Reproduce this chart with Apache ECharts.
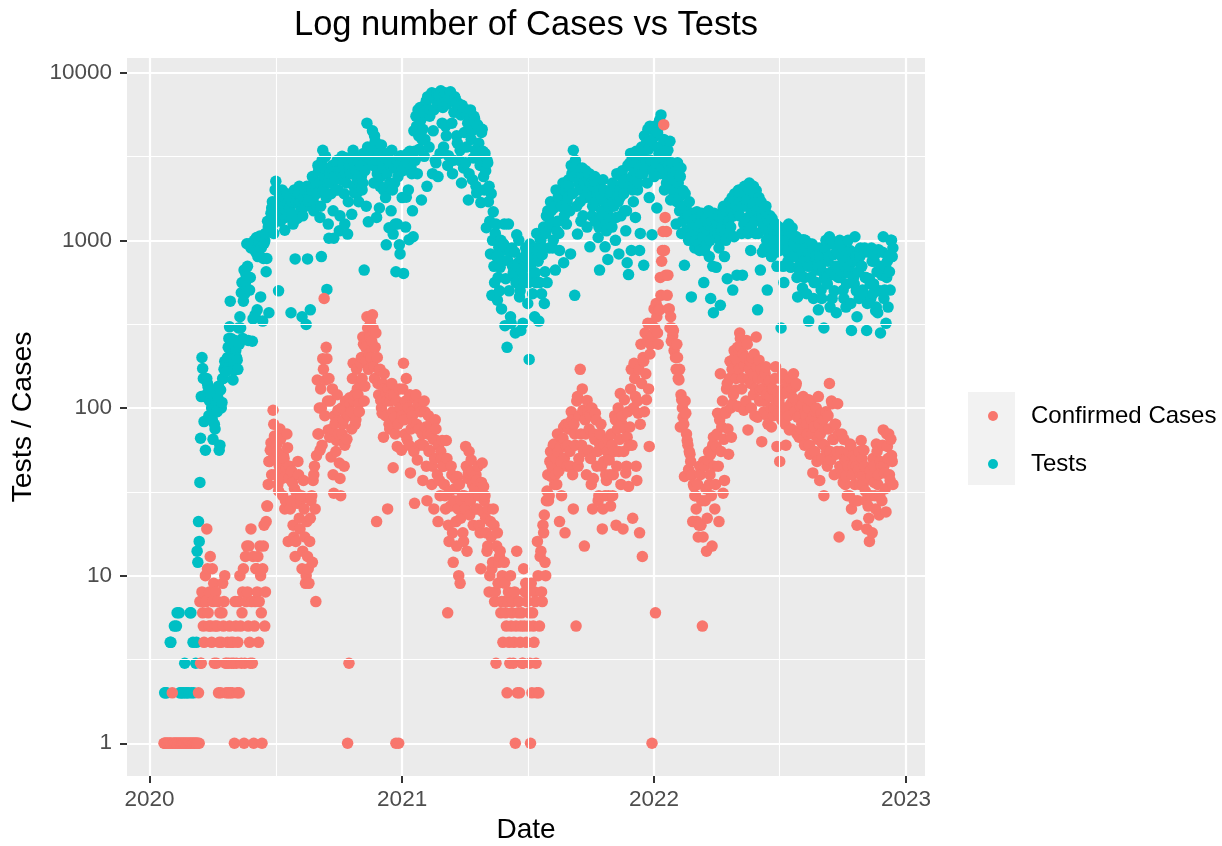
<!DOCTYPE html>
<html>
<head>
<meta charset="utf-8">
<script src="https://cdn.jsdelivr.net/npm/echarts@6/dist/echarts.min.js"></script>
<style>
html,body{margin:0;padding:0;background:#ffffff;}
#chart{width:1222px;height:846px;}
</style>
</head>
<body>
<div id="chart"></div>
<script>
// ---------------- DATA ----------------
// Each yearly array holds one value every 2 days, starting at the given date.
// "A" arrays hold the even days, "B" arrays the odd days in between.
// null = no point (zero / missing, not drawable on a log scale).
const startsA = ['2020-01-22', '2021-01-01', '2022-01-01'];
const startsB = ['2020-01-23', '2021-01-02', '2022-01-02'];
const stepDays = 2;

const tests2020A = [
  null,2,2,null,null,4,null,null,null,5,null,6,2,null,2,
  3,2,null,2,6,2,4,null,3,14,21,36,117,172,83,
  56,150,133,110,122,85,100,75,95,115,56,128,108,150,190,
  165,200,260,434,253,147,168,220,193,300,350,487,260,665,560,
  955,253,505,900,250,895,360,1040,800,980,460,1050,780,995,650,
  1300,370,1120,1560,1250,1370,2250,1980,500,1740,1500,1810,1600,1370,1900,
  1400,1560,370,1700,1300,775,1810,1900,2100,1600,350,1750,2000,315,775,
  1800,385,2000,1740,2300,2200,1600,2600,1370,800,3450,2400,3170,510,1250,
  2500,1900,2800,1030,2300,2900,2000,1140,2600,3170,2400,1250,2200,1090,2800,
  2800,1430,3450,1920,2600,2300,1700,2900,2400,2200,665,3200,5000,1290,3000,
  3000,4500,2200,3900,1370,3450,1560,2400,2900,2000,2600,940,3300,1190,2800,
  3450,1090,2200,650,1250,2800,830,2600
];
const tests2020B = [
  2,null,null,null,4,null,null,5,null,6,null,2,null,2,null,
  null,2,null,null,6,null,2,null,4,12,16,66,200,150,117,
  120,140,90,128,100,65,80,110,95,135,60,100,150,170,180,
  190,230,305,260,220,180,253,200,170,240,300,560,434,480,620,
  700,950,600,960,340,1000,850,385,930,1060,900,330,960,1100,780,
  1200,1300,1450,1700,1100,2000,1600,1400,1800,1300,2000,1700,1150,1500,1650,
  1560,1800,1450,1250,2000,1700,1350,1650,1900,1500,1400,1800,1600,2100,1700,
  2000,1700,2400,1500,2100,1900,2800,2200,1600,3000,2000,2700,1800,2200,1030,
  2200,2700,1500,2400,2000,3000,2600,1400,2300,2800,1900,2500,3100,1700,2600,
  2500,3000,2100,2700,1900,3100,2400,2800,2000,3300,2600,1600,3600,2900,3200,
  3500,2800,4200,3000,2500,3200,2100,3700,2700,3100,1800,2500,3000,2200,1500,
  2000,2700,1250,3000,2400,940,3200
];
const tests2021A = [
  1800,635,2800,1810,3300,1010,3000,2500,1050,3400,5500,2500,4200,6200,1740,
  4600,3170,6500,2100,7000,5500,7300,2500,6000,3000,7500,2400,6800,7800,5000,
  3600,7600,4200,2800,7000,7700,5000,3000,7200,6600,3800,6300,3450,2200,6000,
  4400,2900,6000,1740,5200,4000,2300,5500,3450,1920,4800,3000,1680,4600,2400,
  3300,1190,2900,2100,830,470,1480,560,1250,440,910,690,390,870,1250,
  590,230,1250,870,320,700,620,280,1080,735,460,290,650,560,800,
  830,420,195,690,600,750,350,560,870,330,1010,480,900,420,1100,
  560,1370,1200,1500,900,1560,665,1140,1800,870,1600,2000,735,1980,1250,
  1800,2100,830,2500,3450,470,2800,1090,2200,1700,2500,1400,2000,2600,1200,
  2300,915,2200,1600,2250,1300,1900,1040,665,1810,1400,2000,915,1140,770,
  1560,2000,1200,1700,2100,1370,1800,830,1810,2400,2200,1500,1140,735,625,
  2900,870,2000,2600,1370,3000,2200,870,2500,3200,710,2800,3800,4600,1800,
  3000,1080
];
const tests2021B = [
  2600,3100,1200,2900,2000,3400,2700,1500,4500,3000,4800,6000,3500,5200,4000,
  5800,4000,6800,7200,3600,6000,7600,4500,7000,2900,6500,7400,3300,7000,6200,
  7300,4800,6500,3200,7500,6900,2500,5800,7000,4200,6600,3000,5600,6400,2700,
  5800,3600,5000,2500,6000,4500,3100,5300,2100,4900,3800,2800,4400,3400,2000,
  2600,3000,1700,1300,1900,1000,700,1100,800,600,500,1000,750,950,310,
  900,760,500,350,900,640,850,560,700,1000,500,780,320,600,900,
  700,560,950,800,480,900,640,1100,750,560,1000,820,1200,650,1400,
  1500,900,1700,1250,1000,1600,2000,1300,1100,1900,1600,2200,1400,2100,1700,
  2300,1500,2800,1900,2400,3000,1600,2500,2000,1300,2700,2200,1800,2400,2000,
  2500,1800,1400,2100,2400,1700,2200,1200,2000,1500,2300,1700,1300,1900,1400,
  1900,1300,2200,1600,1000,2500,1700,2000,1400,2600,1900,2300,1500,2800,2100,
  3300,2400,1700,2900,3400,2000,2700,1100,3600,2500,4200,3000,2200,3500,4800,
  3900,2600
];
const tests2022A = [
  2400,4200,1560,3600,5200,5600,2700,4000,3000,2200,3450,2600,1740,2900,2300,
  2000,1250,2900,1800,2400,1100,1980,710,1370,1500,1000,1140,460,1300,1200,
  1000,1480,1200,870,1400,1100,560,1300,950,1250,800,450,1300,370,1100,
  690,1100,900,410,1200,1560,800,1000,590,1300,1100,1500,505,1050,1700,
  620,1980,1400,1700,620,1250,1900,1600,1100,2200,870,1500,2100,1300,1980,
  385,1800,665,1430,1200,900,1600,505,1100,1400,800,1200,950,1250,700,
  1000,870,300,1100,560,900,1200,750,1100,690,1190,950,800,1050,460,
  700,1000,850,1010,600,900,750,330,950,700,870,560,800,665,385,
  800,505,650,300,900,600,750,1050,1000,450,820,620,370,700,850,
  600,800,505,700,400,850,640,870,290,750,550,800,350,650,800,
  700,505,850,600,290,870,590,450,750,550,820,400,370,650,280,
  620,1050,505,320,750,810,505,1000,900
];
const tests2022B = [
  4800,2900,4400,3300,2500,4900,3700,2000,3200,2400,2800,3900,2100,2500,1900,
  2600,1700,2200,1500,2700,1300,1600,1900,1150,1400,1700,1050,1250,1450,900,
  1150,1350,950,1250,1450,1050,870,1350,1150,1500,1000,1200,700,1450,1250,
  1250,1400,1000,1150,1350,1600,1100,1450,1300,1700,1200,1800,1400,1900,1600,
  1500,2000,1800,1100,1600,2100,1300,1750,2000,1400,1200,1650,1900,1100,1500,
  1100,1400,1700,850,1250,1500,1000,1300,1150,900,1350,1050,1250,850,1100,
  1200,950,1050,700,1150,1000,850,1250,900,1100,800,950,1050,600,900,
  650,900,520,750,1000,480,700,850,600,950,450,800,560,700,900,
  700,450,900,600,1000,550,800,400,650,950,500,700,850,600,1000,
  650,900,450,750,550,1000,700,420,850,600,1050,500,750,450,900,
  700,480,900,600,420,850,550,900,480,750,380,650,880,500,700,
  850,450,700,600,400,650,1000,800
];

const cases2020A = [
  1,1,1,1,1,1,2,1,1,1,1,1,1,1,1,
  1,1,1,1,1,1,1,1,1,1,2,7,3,6,4,
  10,19,6,8,5,11,9,5,3,7,4,2,6,5,10,
  2,4,3,2,3,4,1,5,2,7,10,3,8,1,13,
  15,5,4,19,3,1,7,11,13,7,10,1,15,5,21,
  26,48,56,40,97,68,49,55,32,75,41,30,50,28,70,
  16,45,28,36,17,13,31,48,22,28,11,37,17,10,13,
  9,22,30,37,45,7,147,70,56,100,197,450,147,197,74,
  67,51,130,31,81,64,97,47,30,70,85,60,93,1,3,
  106,75,185,120,85,130,106,140,200,265,110,230,350,170,265,
  200,360,176,230,21,140,168,111,93,67,130,122,25,80,110,
  140,44,88,1,59,1,100,56
];
const cases2020B = [
  1,1,1,1,1,1,1,1,1,1,1,1,1,1,1,
  1,1,1,1,1,1,1,1,1,1,1,3,8,5,7,
  7,11,5,13,4,7,3,8,5,2,6,4,9,7,3,
  3,2,5,4,2,3,7,3,4,2,5,6,11,3,7,
  8,15,3,7,13,5,11,8,4,15,6,11,20,8,26,
  35,48,62,55,80,40,60,35,45,65,38,52,25,44,58,
  38,25,42,20,33,16,27,40,19,30,14,25,9,21,11,
  16,28,12,40,25,52,70,100,130,60,170,90,230,110,150,
  110,75,40,90,55,120,70,38,100,80,45,110,65,90,115,
  95,150,110,80,170,120,95,185,150,240,135,190,300,210,330,
  250,300,150,280,200,120,170,100,140,160,90,110,130,75,120,
  95,120,70,110,80,130,100
];
const cases2021A = [
  90,185,70,150,110,60,41,95,81,27,120,49,75,100,61,
  37,110,77,28,90,56,70,45,25,85,64,21,37,55,64,
  45,30,64,6,16,26,40,12,33,21,39,10,9,28,18,
  30,59,14,41,23,49,35,31,25,37,45,20,11,47,34,
  30,18,15,8,21,11,25,7,3,18,12,14,7,4,12,
  6,2,8,3,5,7,4,1,14,6,2,5,3,11,8,
  4,8,6,1,2,5,8,3,16,2,13,8,20,23,10,
  32,28,48,39,53,61,40,35,55,21,48,65,77,18,59,
  60,81,45,85,25,70,5,117,50,170,60,97,15,70,111,
  56,90,35,25,70,93,45,28,61,80,19,48,30,37,65,
  49,26,60,40,90,20,75,55,122,81,19,112,41,67,34,
  77,170,22,185,117,37,93,18,240,13,190,280,112,320,59,
  240,1
];
const cases2021B = [
  130,85,110,65,100,120,75,90,55,115,80,105,60,95,70,
  60,95,45,70,55,80,35,65,50,75,40,60,30,50,45,
  35,25,50,20,32,45,18,28,38,15,25,35,22,30,16,
  25,45,38,55,28,42,20,33,40,25,30,18,36,24,28,
  22,14,25,10,17,12,20,8,15,9,13,6,10,7,9,
  5,7,4,10,6,3,8,5,2,7,4,6,3,5,9,
  7,5,3,9,6,4,7,2,10,5,14,7,18,12,28,
  40,30,55,45,60,35,50,70,42,58,30,66,50,80,45,
  75,55,95,40,80,60,110,45,90,70,130,55,85,40,95,
  75,50,100,38,65,85,55,30,70,45,25,60,40,55,30,
  40,70,30,55,85,45,100,65,35,90,55,75,45,95,60,
  130,60,100,150,45,110,170,80,140,200,95,160,250,130,210,
  320,270
];
const cases2022A = [
  390,6,350,240,385,470,870,4900,1370,1130,620,390,350,300,290,
  240,170,200,147,77,112,88,39,93,64,43,53,40,21,34,
  30,21,17,45,20,5,48,28,14,49,35,53,15,67,25,
  59,93,21,160,77,31,37,93,140,53,190,67,106,220,128,
  193,102,280,230,150,97,200,253,74,170,140,200,120,90,265,
  88,193,128,63,150,110,176,90,140,117,77,130,100,176,59,
  93,48,120,160,122,80,100,140,74,106,130,160,95,140,88,
  67,102,80,117,60,90,70,112,53,85,41,77,95,48,117,
  37,93,61,30,75,55,90,140,49,106,65,80,53,106,17,
  43,70,36,50,39,30,55,61,25,45,28,50,20,43,35,
  64,39,56,32,19,26,16,39,18,45,30,61,35,23,48,
  28,74,41,24,59,70,37,52,35
];
const cases2022B = [
  300,420,280,390,600,750,1130,870,620,470,390,300,250,270,220,
  200,240,150,170,120,100,80,110,70,60,55,48,40,35,30,
  25,35,20,40,28,17,45,33,22,55,40,30,60,45,35,
  70,45,85,55,110,65,95,130,75,150,100,170,120,200,150,
  230,170,260,130,210,180,110,240,150,190,100,160,210,130,175,
  150,110,170,130,95,160,120,80,145,100,130,90,150,110,125,
  110,150,85,130,100,60,125,90,150,75,115,95,135,70,105,
  90,75,105,65,95,80,100,60,110,70,90,55,100,65,80,
  70,50,85,60,95,45,75,55,110,65,40,80,55,70,45,
  55,40,65,35,50,45,30,60,40,52,35,45,28,55,40,
  50,35,45,28,38,22,42,30,50,36,25,55,40,30,45,
  60,45,33,70,50,40,65,48
];

const seriesNames = ['Confirmed Cases', 'Tests'];
const xTickLabels = ['2020', '2021', '2022', '2023'];
const xMinorDates = ['2020-07-02', '2021-07-02', '2022-07-02'];
const yTickLabels = ['1', '10', '100', '1000', '10000'];
const yMinorValues = [3.1623, 31.623, 316.23, 3162.3];

// ---------------- BUILD ----------------
const DAY = 86400000;
const utc = s => Date.parse(s + 'T00:00:00Z');
function build(chunks, starts, out) {
  chunks.forEach((arr, k) => {
    const t0 = utc(starts[k]);
    arr.forEach((v, i) => { if (v != null) out.push([t0 + i * stepDays * DAY, v]); });
  });
  return out;
}
const testsData = [];
build([tests2020A, tests2021A, tests2022A], startsA, testsData);
build([tests2020B, tests2021B, tests2022B], startsB, testsData);
testsData.sort((a, b) => a[0] - b[0]);
const casesData = [];
build([cases2020A, cases2021A, cases2022A], startsA, casesData);
build([cases2020B, cases2021B, cases2022B], startsB, casesData);
casesData.sort((a, b) => a[0] - b[0]);

const xTicks = xTickLabels.map(y => utc(y + '-01-01'));
const yTicks = yTickLabels.map(Number);
const FONT = '"Liberation Sans", Arial, Helvetica, sans-serif';

const chart = echarts.init(document.getElementById('chart'), null, {renderer: 'canvas'});
chart.setOption({
  animation: false,
  backgroundColor: '#ffffff',
  title: {
    text: 'Log number of Cases vs Tests',
    left: 526, top: 8, textAlign: 'center', padding: 0,
    textStyle: {fontFamily: FONT, fontSize: 34.5, fontWeight: 'normal', color: '#000000'}
  },
  grid: {
    left: 127, top: 58, right: 297, bottom: 70,
    outerBoundsMode: 'none', containLabel: false,
    show: true, backgroundColor: '#EBEBEB', borderWidth: 0
  },
  legend: {
    data: seriesNames,
    orient: 'vertical',
    left: 988, top: 404, padding: 0,
    itemWidth: 10, itemHeight: 10, itemGap: 24,
    icon: 'circle',
    textStyle: {fontFamily: FONT, fontSize: 24, color: '#000000', padding: [0, 0, 0, 28]}
  },
  graphic: [{
    type: 'rect', z: 0, silent: true,
    shape: {x: 968, y: 392, width: 47, height: 93},
    style: {fill: '#F2F2F2'}
  }],
  xAxis: {
    type: 'value',
    min: utc('2020-01-01') - 32.6 * DAY,
    max: utc('2020-01-01') + 1123.5 * DAY,
    axisLine: {show: false},
    axisTick: {show: true, length: 7, lineStyle: {color: '#333333', width: 2}, customValues: xTicks},
    axisLabel: {
      customValues: xTicks, margin: 12,
      formatter: v => String(new Date(v).getUTCFullYear()),
      fontFamily: FONT, fontSize: 22.5, color: '#4D4D4D'
    },
    splitLine: {show: true, lineStyle: {color: '#ffffff', width: 2.2}},
    name: 'Date', nameLocation: 'middle', nameGap: 40,
    nameTextStyle: {fontFamily: FONT, fontSize: 28, color: '#000000'}
  },
  yAxis: {
    type: 'log', logBase: 10,
    min: 0.638, max: 12240,
    axisLine: {show: false},
    axisTick: {show: true, length: 7, lineStyle: {color: '#333333', width: 2}, customValues: yTicks},
    axisLabel: {
      customValues: yTicks, margin: 15,
      formatter: v => String(Math.round(v)),
      fontFamily: FONT, fontSize: 22.5, color: '#4D4D4D'
    },
    splitLine: {show: true, lineStyle: {color: '#ffffff', width: 2.2}},
    name: 'Tests / Cases', nameLocation: 'middle', nameGap: 89, nameRotate: 90,
    nameTextStyle: {fontFamily: FONT, fontSize: 28.5, color: '#000000'}
  },
  series: [
    {
      name: 'minor-grid', type: 'line', data: [], silent: true, z: 1,
      markLine: {
        silent: true, symbol: 'none', animation: false,
        label: {show: false},
        lineStyle: {color: '#ffffff', width: 1.1, type: 'solid'},
        emphasis: {disabled: true},
        data: yMinorValues.map(v => ({yAxis: v})).concat(xMinorDates.map(d => ({xAxis: utc(d)})))
      }
    },
    {
      name: 'Tests', type: 'scatter', z: 2, data: testsData,
      symbol: 'circle', symbolSize: 11.5,
      itemStyle: {color: '#00BFC4', opacity: 1}
    },
    {
      name: 'Confirmed Cases', type: 'scatter', z: 3, data: casesData,
      symbol: 'circle', symbolSize: 11.5,
      itemStyle: {color: '#F8766D', opacity: 1}
    }
  ]
});
</script>
</body>
</html>
